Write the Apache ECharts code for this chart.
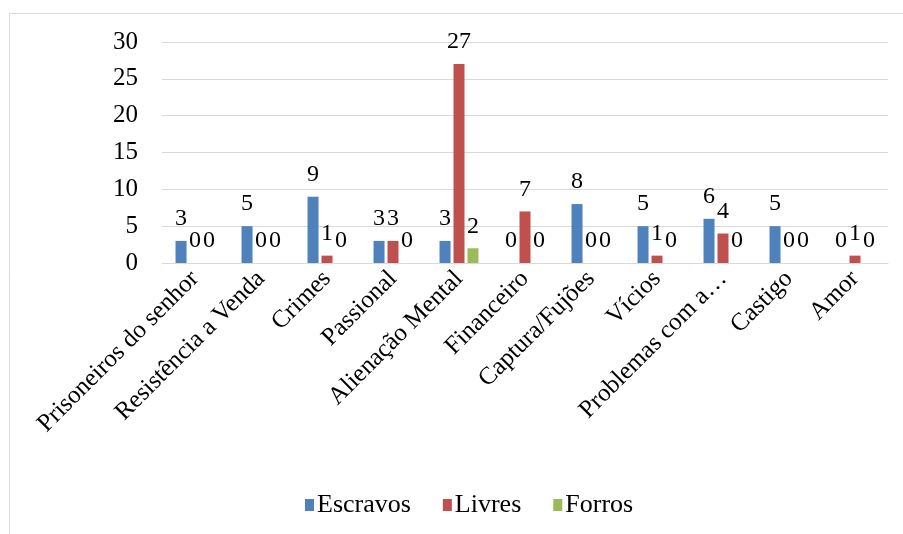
<!DOCTYPE html>
<html>
<head>
<meta charset="utf-8">
<script src="https://cdn.jsdelivr.net/npm/echarts@6/dist/echarts.min.js"></script>
<style>
  html, body { margin: 0; padding: 0; background: #ffffff; }
  #chart { width: 903px; height: 534px; }
</style>
</head>
<body>
<div id="chart"></div>
<script>
// Motivos por condição jurídica
const categories = [
  'Prisoneiros do senhor', 'Resistência a Venda', 'Crimes', 'Passional',
  'Alienação Mental', 'Financeiro', 'Captura/Fujões', 'Vícios',
  'Problemas com a…', 'Castigo', 'Amor'
];
const escravos = [3, 5, 9, 3, 3, 0, 8, 5, 6, 5, 0];
const livres   = [0, 0, 1, 3, 27, 7, 0, 1, 4, 0, 1];
const forros   = [0, 0, 0, 0, 2, 0, 0, 0, 0, 0, 0];
const yTicks   = [0, 5, 10, 15, 20, 25, 30];

const FONT = 'Liberation Serif';

const chart = echarts.init(document.getElementById('chart'), null, { renderer: 'canvas' });

function barSeries(name, data, color) {
  return {
    name: name,
    type: 'bar',
    data: data,
    barWidth: 11,
    barGap: '27%',
    itemStyle: { color: color },
    label: {
      show: true,
      position: 'top',
      distance: 10,
      color: '#000000',
      fontFamily: FONT,
      fontSize: 24
    }
  };
}

chart.setOption({
  animation: false,
  backgroundColor: '#ffffff',
  textStyle: { fontFamily: FONT },
  graphic: [{
    type: 'rect',
    shape: { x: 9.5, y: 13.5, width: 910, height: 540 },
    style: { fill: 'none', stroke: '#d9d9d9', lineWidth: 1 },
    silent: true
  }],
  grid: { left: 162, right: 15, top: 42, bottom: 271, containLabel: false },
  legend: {
    bottom: 11,
    left: 300,
    itemWidth: 9,
    itemHeight: 12,
    itemGap: 32,
    icon: 'rect',
    textStyle: { fontFamily: FONT, fontSize: 26, color: '#000000', padding: [0, 0, 0, -2] },
    data: ['Escravos', 'Livres', 'Forros']
  },
  xAxis: {
    type: 'category',
    data: categories,
    axisLine: { lineStyle: { color: '#d9d9d9', width: 1 } },
    axisTick: { show: false },
    axisLabel: {
      rotate: 45,
      interval: 0,
      margin: 12,
      color: '#000000',
      fontFamily: FONT,
      fontSize: 25
    }
  },
  yAxis: {
    type: 'value',
    min: yTicks[0],
    max: yTicks[yTicks.length - 1],
    interval: yTicks[1] - yTicks[0],
    axisLine: { show: false },
    axisTick: { show: false },
    splitLine: { lineStyle: { color: '#d9d9d9', width: 1 } },
    axisLabel: {
      margin: 24,
      color: '#000000',
      fontFamily: FONT,
      fontSize: 25
    }
  },
  series: [
    barSeries('Escravos', escravos, '#4f81bd'),
    barSeries('Livres', livres, '#c0504d'),
    barSeries('Forros', forros, '#9bbb59')
  ]
});
</script>
</body>
</html>
